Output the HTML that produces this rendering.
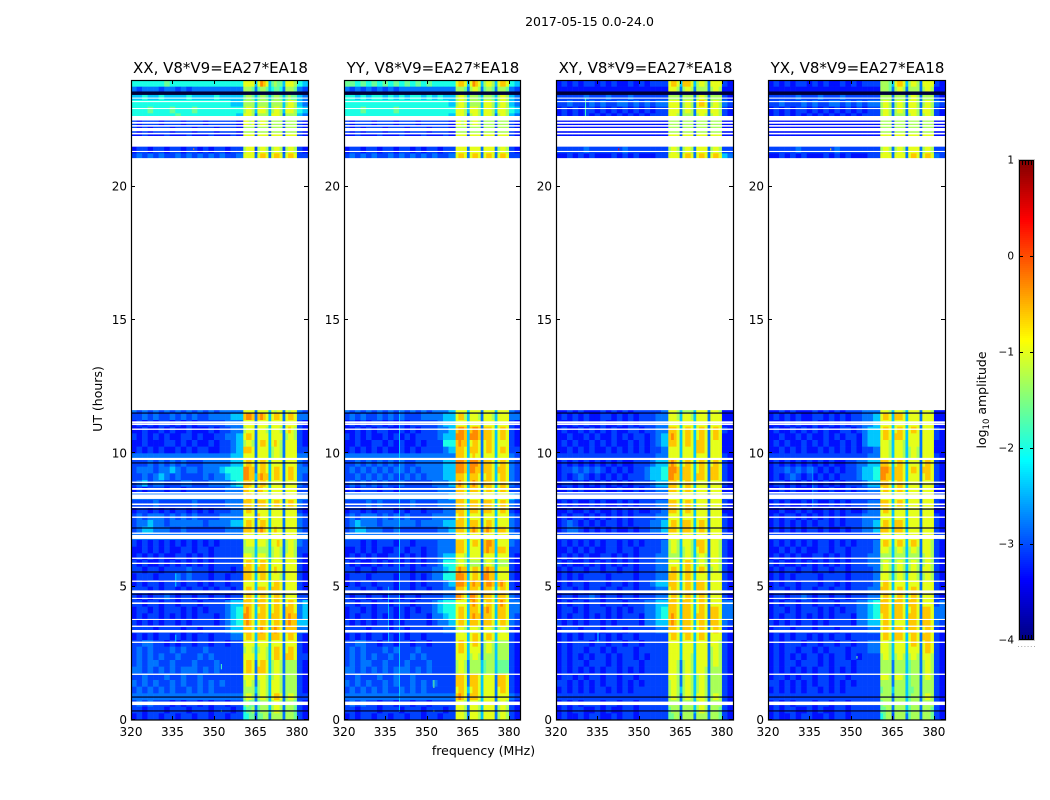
<!DOCTYPE html>
<html>
<head>
<meta charset="utf-8">
<title>2017-05-15 0.0-24.0</title>
<style>
html,body{margin:0;padding:0;background:#fff;}
svg{display:block;}
text{font-family:"DejaVu Sans","Liberation Sans",sans-serif;fill:#000;}
</style>
</head>
<body>
<svg id="figure" xmlns="http://www.w3.org/2000/svg" width="1050" height="800" viewBox="0 0 1050 800">
<text x="589.5" y="26" font-size="12.5" text-anchor="middle">2017-05-15 0.0-24.0</text>
<text x="483.5" y="755" font-size="12.5" text-anchor="middle">frequency (MHz)</text>
<text x="0" y="0" font-size="12.5" text-anchor="middle" transform="translate(102,399) rotate(-90)">UT (hours)</text>
<text x="0" y="0" font-size="12.5" text-anchor="middle" transform="translate(986,400) rotate(-90)">log<tspan font-size="8.5" dy="3">10</tspan><tspan dy="-3"> amplitude</tspan></text>
</svg>
<script>
// Axis ticks
const xTicks = [320, 335, 350, 365, 380];
const yTicks = [0, 5, 10, 15, 20];
const colorbarTicks = [1, 0, -1, -2, -3, -4];
const panelTitles = ["XX, V8*V9=EA27*EA18", "YY, V8*V9=EA27*EA18", "XY, V8*V9=EA27*EA18", "YX, V8*V9=EA27*EA18"];

// Frequency bin edges (MHz)
const freqEdges = [320,322,324,326,328,330,332,334,336,338,340,342,344,346,348,350,352,354,356,358,360.6,361.6,362.6,363.6,364.7,365.7,366.7,367.7,368.7,369.7,370.7,371.7,372.7,373.7,374.8,375.8,376.8,377.8,378.8,380,382,384];

// Lower edge (hours) of each row listed below; every row spans rowSpan hours
const rowSpan = 0.25;
const rowHours = [23.75,23.5,23.25,23,22.75,22.5,22.25,22,21.75,21.5,21.25,21,
11.5,11.25,11,10.75,10.5,10.25,10,9.75,9.5,9.25,9,8.75,8.5,8.25,8,7.75,7.5,7.25,7,6.75,6.5,6.25,6,5.75,5.5,5.25,5,4.75,4.5,4.25,4,3.75,3.5,3.25,3,2.75,2.5,2.25,2,1.75,1.5,1.25,1,0.75,0.5,0.25,0];

// log10 amplitude for each level character 0-9, a
const levelValues = [-3.55,-3.3,-3.05,-2.8,-2.4,-2.0,-1.6,-1.3,-1.0,-0.6,-0.3];

// Level grids, one string per row (same order as rowHours)
const xxRows = [
"55555565555555555555 8888 4 8a98 4 6766 4 8887 54",
"32333233232333333333 7776 3 6776 4 5665 3 7776 32",
"44544544445444454444 6776 4 6776 4 6776 4 6766 43",
"55555555555555555544 7777 4 7777 4 7777 4 7887 43",
"55565556555655555555 7887 4 8887 4 7887 4 8887 54",
"55555555655555555554 8887 3 7777 4 8887 3 7777 43",
"21222122212221222221 8878 2 7887 2 7777 2 7777 21",
"21212221222122212221 7777 2 7777 2 7777 2 7777 21",
"11211121112111211121 8888 2 8888 2 8888 2 8888 21",
"11111111111111111111 8888 2 8888 2 8888 2 8888 11",
"12212212212212122122 7888 2 7887 3 7887 2 7887 21",
"23232322323232323223 8888 3 8998 3 8998 3 8998 22",
"32323232323232323333 8888 3 8888 4 8788 3 8788 32",
"22323223232322333344 9aa9 3 9a98 4 8998 3 8998 33",
"12121221212122222333 8888 3 8888 4 8888 3 8888 21",
"11211212112111212233 7888 3 8887 4 8887 3 8987 21",
"21212121122121122334 8998 3 8888 4 8888 3 7887 21",
"11211122121211212234 7887 3 8998 4 8987 3 8888 21",
"12121211212122112234 9998 3 8888 4 7887 3 8888 22",
"33333333333333333344 8888 3 8888 4 7887 3 8888 33",
"22232323232223333344 8998 3 8998 4 8888 3 8888 32",
"23332334323323334555 aa99 3 8998 4 8998 3 8998 33",
"22323432322223233455 aa99 4 9a99 4 8998 3 8998 32",
"23423322233222333345 9998 3 8998 4 8888 3 8888 32",
"12122212212222222333 9988 3 9988 4 8888 3 8888 22",
"33333333333333333333 8998 3 8888 4 8888 3 8888 33",
"22223222222322222333 9998 3 9998 4 8998 3 8998 32",
"12212121221212122233 8998 3 8888 4 8888 3 8888 21",
"23233323232322223333 8888 3 9888 4 8888 3 8888 32",
"23343323333332333344 8998 3 8998 4 8888 3 8888 32",
"23443332232222222333 9998 3 9a98 4 8988 3 8888 32",
"33333333333333333333 8888 4 8888 4 8888 3 8888 33",
"21212121212121212222 7888 4 8887 4 8898 3 7887 32",
"11212121122122122222 7777 4 7777 4 7887 3 7887 22",
"12121211221212122222 8887 4 8887 4 7887 3 8887 21",
"21211212121212122222 8998 4 8998 4 8888 3 8888 21",
"22122122223222122212 9998 4 9998 4 8988 3 8888 21",
"12221222323222122122 9998 4 8998 4 8887 3 8888 21",
"12122122212212122122 8888 4 8888 4 8998 3 8888 21",
"22212122121221212212 8998 4 9998 4 9998 3 8888 21",
"21212232122122122122 8998 4 8998 4 8998 3 8888 22",
"22122122122212222344 9998 4 9998 4 8998 3 8998 34",
"12212122212121222345 9a98 4 8998 4 8998 3 9998 34",
"12122121212122212345 aa98 4 9998 4 9998 3 9a99 34",
"21212122121222212345 9a98 4 8998 4 8998 3 9a99 44",
"22221222212212222344 9998 4 9a98 4 9a98 3 9999 33",
"12121221212122122233 8998 4 9998 4 9998 3 8998 21",
"22332212122122122122 8888 4 8888 4 8888 3 8888 21",
"23232223232223222222 7887 4 7887 4 8998 3 8998 21",
"23232322322232322222 8888 4 8887 4 8998 3 9998 22",
"23233223222322232222 8998 3 8998 4 7887 3 7777 21",
"33232323233323232222 8998 3 9998 4 7887 3 7777 21",
"22322232232232222222 8888 3 8887 4 7887 3 7777 21",
"32323223232232323222 7887 3 7887 4 8887 3 7777 21",
"23232323223232322222 7777 4 7887 4 8887 3 7777 21",
"33333333333333333333 7887 3 7887 4 8998 3 7887 22",
"23232221212212122122 6766 3 6777 4 7887 3 7776 21",
"22122212221222122212 5667 3 6777 4 7887 3 7776 21",
"12122122122122122122 5566 2 6677 3 7777 3 7776 21"
];
const yyRows = [
"66565656565656565555 8998 4 8a98 4 7887 4 8998 54",
"32323232323333333333 7776 3 7887 3 6776 3 7776 32",
"55454554545455454544 7887 4 7776 4 7776 4 7887 43",
"55555555555555555554 7887 4 7777 4 8887 4 7887 43",
"55565555565555555555 8887 4 8887 4 8887 4 8887 54",
"55555555555555555554 8887 3 7887 4 8887 3 7887 43",
"21222122212221222221 8878 2 7887 2 7777 2 7777 21",
"21212221222122212221 7777 2 7777 2 7777 2 7777 21",
"11211121112111211121 8888 2 8888 2 8888 2 8888 21",
"11111111111111111111 8888 2 8888 2 8888 2 8888 11",
"12212212212212122122 8888 3 8888 3 8888 3 7887 21",
"23232322323232323223 8998 3 8998 3 8998 3 8998 22",
"32323232323232323334 8888 4 8888 3 8888 4 8888 32",
"23232232323222333344 8997 4 8887 3 8887 4 8888 33",
"12121221212122222344 8888 4 8888 3 8888 4 8888 21",
"11212122112121222334 9aa9 4 9aa9 3 9998 4 8998 21",
"21212112121212222344 aaa9 4 aaa9 3 9998 4 8998 21",
"11211221212112122255 9a99 4 8998 3 8998 4 8888 21",
"12121212112121222234 9998 4 9998 3 8998 4 8998 22",
"33333333333333333333 9998 4 8988 3 8888 4 8888 32",
"22323232323223333344 aaa9 4 aaa9 3 9998 4 8998 32",
"23232323233232333344 aaa9 4 aa99 3 9998 4 9998 32",
"22323232322323233344 9998 4 9998 3 8998 4 8998 32",
"23232323223222223334 9a98 4 9a98 3 9998 4 8998 32",
"12122212212222222333 9998 4 9998 3 8998 4 8998 22",
"33333333333333333334 9998 4 8888 3 8888 4 8888 43",
"22223232222232222333 9998 4 9998 3 9998 4 8998 32",
"12212122212122122233 9998 4 9998 3 9998 4 8998 21",
"23233323232322223333 8998 4 8888 3 8888 4 8888 32",
"23433323333332333344 9998 4 9998 3 8998 4 8888 32",
"23443332232222222334 9998 4 9a98 3 9a98 4 9998 32",
"33333333333333333333 8888 4 8888 3 8888 4 8888 33",
"22212122212212222333 9998 4 8998 3 9aa9 4 8888 32",
"11212121122122122333 9998 4 8888 3 9a99 4 9998 22",
"12121211221212122344 8887 4 8888 3 8888 4 8888 21",
"21211212121212122355 7887 4 7777 3 7887 4 7777 21",
"22122122222212223345 9a99 4 8998 3 9a99 4 8888 21",
"12221222212212123355 aaa9 4 8998 3 aa99 4 8888 21",
"12122122212212122234 aaa9 4 9a99 3 9aa9 4 9a98 21",
"22212212212212212233 9998 4 9998 3 9998 4 8998 21",
"21221221221221222233 aa98 4 aa98 3 9998 4 9998 32",
"22122122122212223455 8888 4 9a98 3 8998 4 9a98 33",
"12212122212121223455 8998 4 9998 3 9a98 4 9998 33",
"12122121212122213345 8998 4 9a99 3 9998 4 9998 32",
"21212122121222212334 8998 4 9998 3 9998 4 8998 32",
"22221222122122222233 7887 4 8887 3 8887 4 7887 21",
"12121221212122122222 8888 4 8998 3 8998 4 8888 21",
"22332212212212212222 8998 4 8998 3 7887 4 7777 21",
"23232223232223222222 8998 4 8888 3 7887 4 7777 21",
"23232322322232322222 8888 4 7887 3 7777 4 7777 21",
"23233223222322232222 7887 3 7777 4 6777 4 6666 21",
"33232323233323232222 7887 3 7777 4 6777 4 6666 21",
"22322232232232222222 9998 3 9998 4 8888 3 9998 21",
"32323223232232323222 9998 3 9998 4 8888 3 9998 21",
"23232323223232322222 8998 4 8998 4 8888 3 8998 21",
"33333333333333333333 9a98 3 9998 4 8888 3 8888 32",
"23232212212212212222 8887 3 8887 4 8888 3 7887 21",
"22122212221222122212 8887 3 8887 4 8888 3 7887 21",
"12122122122122122122 8887 3 8887 4 8888 3 7887 21"
];
const xyRows = [
"12121221212112121222 8998 4 9998 4 7887 3 8888 21",
"11111111111111111111 8887 3 7887 3 7777 3 7887 11",
"22222322232223222222 7777 3 7777 3 7887 3 7777 21",
"22322232322332323233 8888 3 7887 3 8998 3 7887 32",
"12121221212121212122 8888 3 7887 3 8888 3 8887 21",
"12121212121212121222 8887 3 7777 3 7887 3 7887 21",
"11111111111111111111 7777 2 7777 2 7777 2 7777 11",
"11111111111111111111 7777 2 7777 2 7777 2 7777 11",
"11111111111111111111 8888 2 8888 2 8888 2 8888 11",
"11111111111111111111 8888 2 8888 2 8888 2 8888 11",
"22222322222232222222 7887 3 7887 3 8888 3 7887 22",
"11212121112121211122 8888 3 8998 3 8998 3 8998 43",
"11212111212121222223 8887 4 7777 4 8888 3 8887 11",
"12121211221212122233 8887 4 8887 4 8888 3 8888 11",
"11121211211212122233 8888 4 8888 4 8888 3 8888 11",
"12112121212112212233 9998 4 8998 4 8998 3 8998 21",
"11211212112121221234 9a98 4 8998 4 8998 3 8998 11",
"12121121212112121234 9998 4 8998 4 9998 3 8888 11",
"11212121121212121223 8888 4 8888 4 9998 3 8888 11",
"22222222222222222233 8888 4 8888 4 8888 3 8888 21",
"12121212121211222344 9a98 4 8998 4 8998 3 8998 21",
"12232323212121223445 aaa9 4 9998 4 8998 3 9998 21",
"12123212121212223445 aa99 4 9998 4 9998 3 9998 21",
"12212121212121222344 9998 4 8998 4 8888 3 8888 21",
"11212111211211212233 9998 4 8998 4 8888 3 8888 11",
"22222222222222222222 8888 4 8888 4 8888 3 8888 22",
"12121121211212122233 9998 4 8998 4 8888 3 8888 21",
"11211212112121211223 9998 4 8998 4 8888 3 8888 11",
"12122121212121222233 8888 4 8888 4 8888 3 8888 21",
"12321212122121222334 8998 4 9998 4 8998 3 8888 21",
"12332121212112122334 9998 4 9998 4 8998 3 8888 21",
"22222222222222222222 8888 4 8888 4 8888 3 8888 22",
"12121212122121212223 7887 4 8887 4 9998 3 8887 21",
"11212121122122122223 7887 4 7887 4 8998 3 8887 21",
"12121211221212122233 7777 4 7887 4 7887 3 8887 21",
"21211212121212122233 8888 4 8998 4 7887 3 8887 21",
"12122122122122122233 8998 4 8998 4 8998 3 7887 21",
"12121222212222122233 9998 4 8998 4 8888 3 8888 21",
"12122122212212122344 9998 4 8998 4 9998 3 8888 21",
"12212122122122122233 8998 4 8998 4 9998 3 8888 21",
"12212232122122122233 8998 4 8998 4 8998 3 8888 21",
"12122122122212223344 9998 4 9998 4 8998 3 8888 33",
"12212122212121223345 9998 4 9998 4 8998 3 9998 33",
"12122121212122213345 9a98 4 9998 4 9998 3 9998 33",
"21212122121222213344 9a98 4 9998 4 8998 3 9998 32",
"12221222122212222233 9998 4 9998 4 8998 3 8998 21",
"12121221212122122222 8998 4 8998 4 8998 3 8888 21",
"12122212212212212222 8888 4 8888 4 8888 3 8887 21",
"12122122121222122222 8888 4 8888 4 8888 3 7887 21",
"12121212212122121222 8888 4 8887 4 8888 3 7887 21",
"12122122212122212222 8887 3 7887 4 8888 3 7887 21",
"12121212122121212222 8887 3 7887 4 8887 3 7777 21",
"12212122122122122222 8887 3 7887 4 7887 3 7777 21",
"22121212122121212222 7887 3 7887 4 7887 3 7777 21",
"12121212212121222222 7887 4 7887 4 7887 3 7777 21",
"22222222222222222222 7887 3 7887 4 8887 3 7887 21",
"12121222122122122222 7777 3 7777 4 7887 3 7777 21",
"12122112121122122222 6777 3 7777 4 7887 3 7776 21",
"12112122112122122222 6677 2 7777 3 7777 3 7776 21"
];
const yxRows = [
"12121221212112121222 7776 4 8998 4 7887 3 8888 21",
"11111111111111111111 7776 3 7887 3 7777 3 7887 11",
"22222322232223222222 7777 3 7777 3 7887 3 7777 21",
"22322232322332323233 7887 3 7887 3 8887 3 7887 32",
"12121221212121212122 7887 3 7887 3 8887 3 8887 21",
"12121212121212121222 7887 3 7777 3 7887 3 7887 21",
"11111111111111111111 7777 2 7777 2 7777 2 7777 11",
"11111111111111111111 7777 2 7777 2 7777 2 7777 11",
"11111111111111111111 8888 2 8888 2 8888 2 8888 11",
"11111111111111111111 8888 2 8888 2 8888 2 8888 11",
"22222322222232222222 7887 3 7887 3 8888 3 7887 22",
"11212121112121211122 8888 3 8888 3 8998 3 8998 32",
"11212111212121222333 8887 4 8887 4 8888 3 8887 11",
"12121211221212122334 8998 4 9998 4 8888 3 8888 11",
"11121211211212122334 8888 4 8888 4 8888 3 8888 11",
"12112121212112212344 8998 4 8998 4 8998 3 8888 21",
"11211212112121221344 8998 4 9998 4 8888 3 8888 21",
"12121121212112121344 8887 4 8887 4 8888 3 8888 11",
"11212121121212121223 8887 4 8887 4 7887 3 8888 11",
"22222222222222222233 8887 4 8887 4 7887 3 8888 21",
"12121212121211223344 9998 4 8998 4 8888 3 8998 21",
"12232323212121223445 aaa9 4 9998 4 8998 3 9998 21",
"12123212121212223445 aa99 4 9998 4 8888 3 8998 21",
"12212121212121222344 9998 4 8998 4 8888 3 8888 21",
"11212111211211212233 8998 4 8998 4 8888 3 8888 11",
"22222222222222222222 8888 4 8888 4 8888 3 8888 22",
"12121121211212122233 9998 4 8998 4 8888 3 8888 21",
"11211212112121211233 8998 4 8888 4 8888 3 8888 11",
"12122121212121222333 8888 4 8888 4 8888 3 8888 21",
"12121212122121222334 8998 4 9998 4 8888 3 8888 21",
"12121212212112122334 9998 4 9998 4 8888 3 8888 21",
"22222222222222222222 8888 4 8888 4 8888 3 8888 22",
"12121212122121212223 8998 4 8998 4 8998 3 8887 21",
"11212121122122122223 8887 4 7887 4 7887 3 8887 21",
"12121211221212122233 7777 4 7777 4 7777 3 7887 21",
"21211212121212122233 7887 4 7887 4 7887 3 7887 21",
"12122122122122122223 7887 4 7887 4 7887 3 8887 21",
"12121222212222122223 8887 4 7887 4 8887 3 7887 21",
"12122122212212122223 8998 4 8888 4 8888 3 8888 21",
"12212122122122122233 9998 4 8998 4 8998 3 8888 21",
"12212232122122122233 8998 4 8998 4 8998 3 8888 21",
"12122122122212223345 9998 4 9998 4 9998 3 8888 23",
"12212122212121223345 9998 4 9998 4 8998 3 9998 33",
"12122121212122213345 8998 4 9998 4 9998 3 9998 33",
"21212122121222213344 8998 4 8888 4 9998 3 9998 32",
"12221222122212222233 8998 4 9998 4 9998 3 8998 21",
"12121221212122122222 8998 4 9998 4 8998 3 9998 21",
"12122212212212212233 8887 4 8888 4 8998 3 8998 21",
"12122122121222122233 8887 4 8888 4 8888 3 8998 21",
"12121212212122121222 7887 4 7887 4 7887 3 8887 21",
"12122122212122212222 7777 3 7777 4 6777 3 7887 21",
"12121212122121212222 7777 3 7777 4 6777 3 7887 21",
"12212122122122122222 8887 3 8887 4 6777 3 7887 21",
"22121212122121212222 7777 3 7777 4 6777 3 7777 21",
"12121212212121222222 6777 4 7777 4 6677 3 7777 21",
"22222222222222222222 7777 3 7777 4 6777 3 7887 21",
"12121222122122122222 6777 3 7777 4 6777 3 7777 21",
"12122112121122122222 6677 3 7777 4 6777 3 7776 21",
"12112122112122122222 5677 2 7777 3 6777 3 7776 21"
];

// Flagged (blank) time ranges, hours: start, end
const gapStarts = [0.56,1.69,2.89,3.28,3.49,3.75,4.35,4.54,4.76,5.18,5.85,6.04,6.79,6.98,7.58,7.95,8.06,8.29,8.49,8.63,8.89,9.75,10.88,11.06,11.11,11.62,21.3,21.5,21.96,22.08,22.25,22.36,22.48,22.91,23.17,23.3];
const gapEnds   = [0.69,1.74,2.94,3.375,3.54,3.79,4.41,4.58,4.86,5.23,5.9,6.09,6.94,7.03,7.63,8,8.12,8.46,8.55,8.7,8.94,9.83,10.93,11.1,11.2,21.07,21.34,21.9,22.02,22.2,22.31,22.43,22.65,22.95,23.21,23.34];

// Dark zero-amplitude time lines (hours), and the dark band near the top
const darkLineHours = [0.34,0.86,4.72,5.55,7.2,7.91,8.85,9.64,11.51];
const darkBandStart = [23.44];
const darkBandEnd = [23.57];

// Narrow RFI features per panel: frequency, start hour, end hour, log10 amplitude
const xxStreakFreq = [336,336,342.5,352.5,352.5];
const xxStreakFrom = [5.0,2.9,21.38,0.3,1.9];
const xxStreakTo   = [5.5,3.2,21.44,0.38,2.1];
const xxStreakAmp  = [-2.3,-2.3,-0.3,-1.8,-1.8];
const yyStreakFreq = [340,336,352.5,352.5];
const yyStreakFrom = [0.3,2.9,0.3,1.2];
const yyStreakTo   = [11.6,5.0,0.38,1.5];
const yyStreakAmp  = [-2.4,-2.5,-1.6,-1.6];
const xyStreakFreq = [330.5,342.5,335];
const xyStreakFrom = [22.5,21.36,2.9];
const xyStreakTo   = [23.3,21.44,3.3];
const xyStreakAmp  = [-1.8,0.4,-2.2];
const yxStreakFreq = [336,342.5,352];
const yxStreakFrom = [8.0,21.36,2.3];
const yxStreakTo   = [9.5,21.44,2.4];
const yxStreakAmp  = [-2.6,-0.6,-1.6];

const panelRows = [xxRows, yyRows, xyRows, yxRows];
const panelStreakFreq = [xxStreakFreq, yyStreakFreq, xyStreakFreq, yxStreakFreq];
const panelStreakFrom = [xxStreakFrom, yyStreakFrom, xyStreakFrom, yxStreakFrom];
const panelStreakTo = [xxStreakTo, yyStreakTo, xyStreakTo, yxStreakTo];
const panelStreakAmp = [xxStreakAmp, yyStreakAmp, xyStreakAmp, yxStreakAmp];
const panelKeys = ["xx", "yy", "xy", "yx"];

// Layout
const panelLeft = [131, 344, 556, 768];
const panelWidths = [177, 176, 177, 177];
const plotTop = 80;
const plotBottom = 720;
const cbLeft = 1019, cbWidth = 15, cbTop = 160, cbBottom = 640;

const NS = "http://www.w3.org/2000/svg";
const fig = document.getElementById("figure");

function clip01(v){ return Math.max(0, Math.min(1, v)); }
function jet(v){
  const t = clip01((v + 4) / 5);
  const r = clip01(1.5 - Math.abs(4 * t - 3));
  const g = clip01(1.5 - Math.abs(4 * t - 2));
  const b = clip01(1.5 - Math.abs(4 * t - 1));
  return "rgb(" + Math.round(r * 255) + "," + Math.round(g * 255) + "," + Math.round(b * 255) + ")";
}
function xScale(k, f){ return panelLeft[k] + (f - 320) / 64 * panelWidths[k]; }
function yScale(h){ return plotBottom - h / 24 * (plotBottom - plotTop); }
function cbScale(v){ return cbTop + (1 - v) / 5 * (cbBottom - cbTop); }
function svgEl(tag, parent, attrs){
  const n = document.createElementNS(NS, tag);
  for (const a in attrs) n.setAttribute(a, attrs[a]);
  parent.appendChild(n);
  return n;
}
function lineEl(parent, x1, y1, x2, y2, stroke){
  return svgEl("line", parent, {x1: x1, y1: y1, x2: x2, y2: y2, stroke: stroke || "#000", "stroke-width": 1, "shape-rendering": "crispEdges"});
}

panelRows.forEach(function(rows, k){
  const panelWidth = panelWidths[k];
  const g = svgEl("g", fig, {});
  
  

  rows.forEach(function(row, r){
    const levels = row.replace(/ /g, "");
    const hour = rowHours[r];
    for (let c = 0; c < freqEdges.length - 1; c++) {
      const v = levelValues[parseInt(levels[c], 16)];
      const x0 = xScale(k, freqEdges[c]), x1 = xScale(k, freqEdges[c + 1]);
      const yTop = yScale(hour + rowSpan), yBot = yScale(hour);
      const cell = svgEl("rect", g, {x: x0, y: yTop, width: x1 - x0 + 0.3, height: yBot - yTop + 0.3, fill: jet(v)});
      
      
    }
  });

  panelStreakFreq[k].forEach(function(f, i){
    const x0 = xScale(k, f);
    const yTop = yScale(panelStreakTo[k][i]), yBot = yScale(panelStreakFrom[k][i]);
    const s = svgEl("rect", g, {x: x0, y: yTop, width: 1, height: yBot - yTop, fill: jet(panelStreakAmp[k][i])});
    
    
  });

  gapStarts.forEach(function(h0, i){
    const yTop = yScale(gapEnds[i]), yBot = yScale(h0);
    const w = svgEl("rect", g, {x: xScale(k, 320), y: yTop, width: panelWidth, height: yBot - yTop, fill: "#fff"});
    
    
  });

  darkBandStart.forEach(function(h0, i){
    const yTop = yScale(darkBandEnd[i]), yBot = yScale(h0);
    const b = svgEl("rect", g, {x: xScale(k, 320), y: yTop, width: panelWidth, height: yBot - yTop, fill: "#00003a"});
    
    
  });

  darkLineHours.forEach(function(h){
    const y = yScale(h);
    const b = svgEl("rect", g, {x: xScale(k, 320), y: y - 0.6, width: panelWidth, height: 1.2, fill: "#00002a"});
    
    
  });

  const frame = svgEl("rect", g, {x: panelLeft[k] + 0.5, y: plotTop + 0.5, width: panelWidth, height: plotBottom - plotTop - 0.5, fill: "none", stroke: "#000", "stroke-width": 1.2});
  
  

  xTicks.forEach(function(t){
    const x = Math.round(xScale(k, t)) + 0.5;
    const bottomTick = lineEl(g, x, plotBottom, x, plotBottom - 4);
    
    
    const topTick = lineEl(g, x, plotTop, x, plotTop + 4);
    
    
    const label = svgEl("text", g, {x: xScale(k, t), y: 736, "font-size": 12, "text-anchor": "middle"});
    label.textContent = String(t);
    
    
  });

  yTicks.forEach(function(t){
    const y = Math.round(yScale(t)) - 0.5;
    const leftTick = lineEl(g, panelLeft[k], y, panelLeft[k] + 4, y);
    
    
    const rightTick = lineEl(g, panelLeft[k] + panelWidth, y, panelLeft[k] + panelWidth - 4, y);
    
    
    const label = svgEl("text", g, {x: panelLeft[k] - 4, y: yScale(t) + 4, "font-size": 12, "text-anchor": "end"});
    label.textContent = String(t);
    
    
  });

  const title = svgEl("text", g, {x: panelLeft[k] + panelWidth / 2 + 1, y: 73, "font-size": 15, "text-anchor": "middle"});
  title.textContent = panelTitles[k];
  
  
});

// Colorbar
const cb = svgEl("g", fig, {});


for (let px = cbTop; px < cbBottom; px += 2) {
  const v = 1 - (px + 1 - cbTop) / (cbBottom - cbTop) * 5;
  const seg = svgEl("rect", cb, {x: cbLeft, y: px, width: cbWidth, height: 2.2, fill: jet(v)});
  
  
}
const cbHalo = svgEl("rect", cb, {x: cbLeft - 0.5, y: cbTop - 0.5, width: cbWidth + 1, height: cbBottom - cbTop + 1, fill: "none", stroke: "#c8c8c8", "stroke-width": 1});


const cbOuter = svgEl("rect", cb, {x: cbLeft + 0.5, y: cbTop + 0.5, width: cbWidth - 1, height: cbBottom - cbTop - 1, fill: "none", stroke: "#000", "stroke-width": 1});


colorbarTicks.forEach(function(t){
  const y = Math.round(cbScale(t)) + 0.5;
  if (t !== 1 && t !== -4) {
    const l = lineEl(cb, cbLeft, y, cbLeft + 4, y);
    
    
    const r = lineEl(cb, cbLeft + cbWidth, y, cbLeft + cbWidth - 4, y);
    
    
  }
  const label = svgEl("text", cb, {x: cbLeft - 5, y: cbScale(t) + 3.5, "font-size": 10.5, "text-anchor": "end"});
  label.textContent = String(t).replace("-", "\u2212");
  
  
});
[0.2, 0.4, 0.6, 0.8].forEach(function(frac){
  const x = Math.round(cbLeft + cbWidth * frac) + 0.5;
  const a = lineEl(cb, x, cbTop, x, cbTop + 5);
  
  
  const b = lineEl(cb, x, cbBottom, x, cbBottom - 5);
  
  
});
[0, 0.2, 0.4, 0.6, 0.8, 1].forEach(function(frac){
  const d = svgEl("rect", cb, {x: cbLeft - 1 + (cbWidth + 1) * frac, y: 646, width: 1, height: 1, fill: "#aaa"});
  
  
});
</script>
</body>
</html>
